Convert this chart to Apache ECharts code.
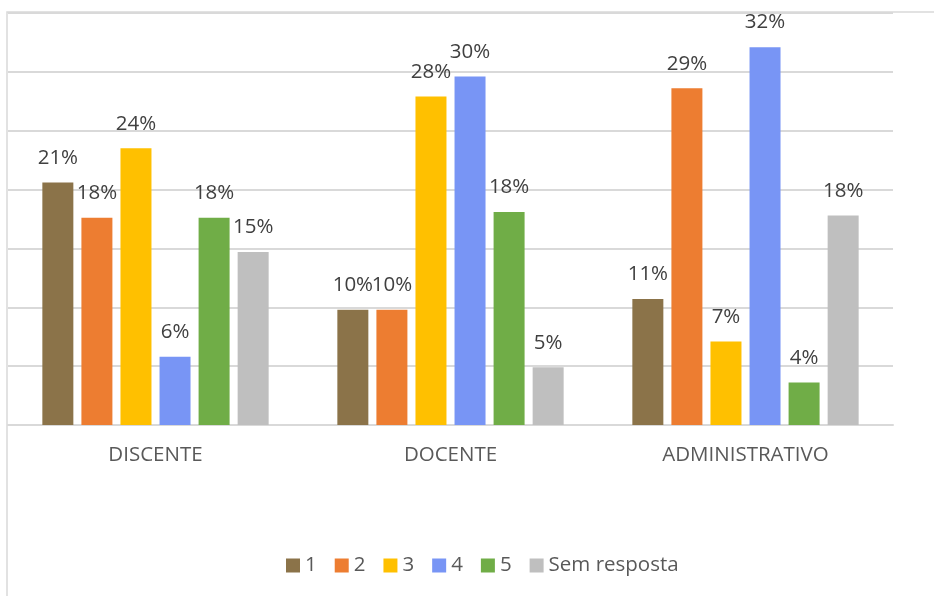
<!DOCTYPE html>
<html>
<head>
<meta charset="utf-8">
<script src="https://cdn.jsdelivr.net/npm/echarts@6/dist/echarts.min.js"></script>
<style>
  html, body { margin: 0; padding: 0; background: #fff; }
  #chart { width: 934px; height: 596px; }
</style>
</head>
<body>
<div id="chart"></div>
<script>
// categorias e valores (%)
var categories = ['DISCENTE', 'DOCENTE', 'ADMINISTRATIVO'];
var seriesNames = ['1', '2', '3', '4', '5', 'Sem resposta'];
var vals1 = [20.6, 9.8, 10.7];
var vals2 = [17.6, 9.8, 28.6];
var vals3 = [23.5, 27.9, 7.1];
var vals4 = [5.8, 29.6, 32.1];
var vals5 = [17.6, 18.1, 3.6];
var valsSem = [14.7, 4.9, 17.8];
var colors = ['#8B7349', '#ED7D31', '#FFC000', '#7895F5', '#70AD47', '#BFBFBF'];

var allVals = [vals1, vals2, vals3, vals4, vals5, valsSem];
var font = '"Open Sans", sans-serif';

var myChart = echarts.init(document.getElementById('chart'));

var series = [];
for (var i = 0; i < seriesNames.length; i++) {
    series.push({
        name: seriesNames[i],
        type: 'bar',
        data: allVals[i],
        barWidth: 31,
        barGap: '26%',
        itemStyle: { color: colors[i] },
        label: {
            show: true,
            position: 'top',
            distance: 14,
            color: '#404040',
            fontSize: 20.5,
            fontFamily: font,
            formatter: function (p) { return Math.round(p.value) + '%'; }
        }
    });
}

option = {
    animation: false,
    color: colors,
    grid: { left: 8, right: 41, top: 13, bottom: 171 },
    legend: {
        left: 286,
        top: 555,
        padding: 0,
        itemWidth: 14,
        itemHeight: 14,
        itemGap: 18,
        icon: 'rect',
        textStyle: { color: '#595959', fontSize: 20.5, fontFamily: font },
        data: seriesNames
    },
    xAxis: {
        type: 'category',
        data: categories,
        axisTick: { show: false },
        axisLine: { lineStyle: { color: '#d9d9d9', width: 2 } },
        axisLabel: { color: '#595959', fontSize: 20.5, fontFamily: font, margin: 20 }
    },
    yAxis: {
        type: 'value',
        min: 0,
        max: 35,
        interval: 5,
        axisLabel: { show: false },
        axisLine: { show: false },
        axisTick: { show: false },
        splitLine: { lineStyle: { color: '#d9d9d9', width: 2 } }
    },
    graphic: [{
        type: 'rect',
        shape: { x: 7, y: 12, width: 1000, height: 1000 },
        style: { fill: 'none', stroke: '#d9d9d9', lineWidth: 1.5 },
        silent: true
    }],
    series: series
};

myChart.setOption(option);
window.onresize = myChart.resize;
</script>
</body>
</html>
